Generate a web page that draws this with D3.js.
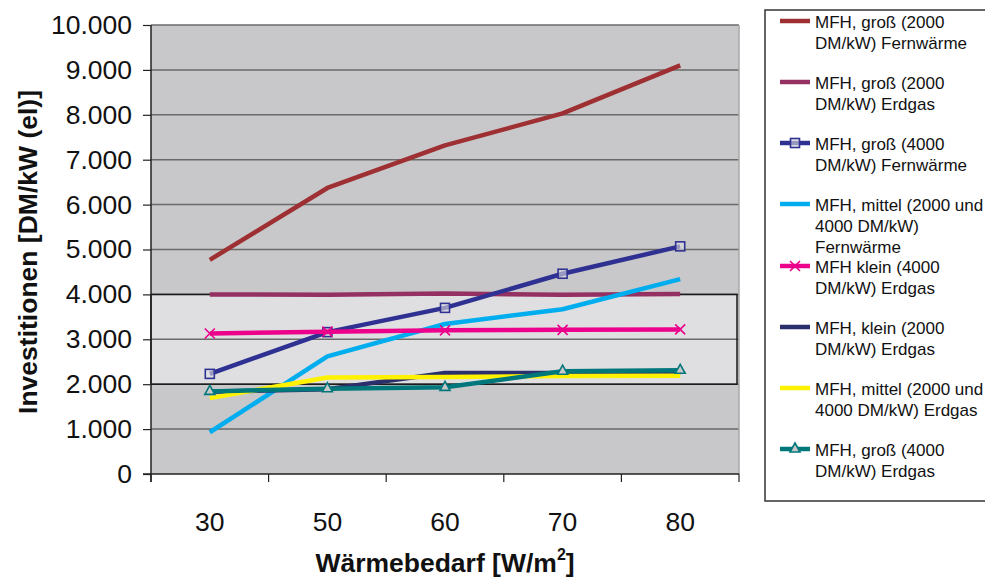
<!DOCTYPE html>
<html>
<head>
<meta charset="utf-8">
<script src="https://cdn.jsdelivr.net/npm/d3@7/dist/d3.min.js"></script>
<style>
  html, body { margin: 0; padding: 0; background: #ffffff; }
  svg { display: block; font-family: "Liberation Sans", Arial, sans-serif; }
</style>
</head>
<body>
<svg id="chart" width="985" height="577"></svg>
<script>
// ---- data ----
const categories = ["30", "50", "60", "70", "80"];
const yTickValues = [0, 1000, 2000, 3000, 4000, 5000, 6000, 7000, 8000, 9000, 10000];
const yTickLabels = ["0", "1.000", "2.000", "3.000", "4.000", "5.000", "6.000", "7.000", "8.000", "9.000", "10.000"];

const seriesNames = [
  ["MFH, groß (2000", "DM/kW) Fernwärme"],
  ["MFH, groß (2000", "DM/kW) Erdgas"],
  ["MFH, groß (4000", "DM/kW) Fernwärme"],
  ["MFH, mittel (2000 und", "4000 DM/kW)", "Fernwärme"],
  ["MFH klein (4000", "DM/kW) Erdgas"],
  ["MFH, klein (2000", "DM/kW) Erdgas"],
  ["MFH, mittel (2000 und", "4000 DM/kW) Erdgas"],
  ["MFH, groß (4000", "DM/kW) Erdgas"]
];
const grossFW2000   = [4770, 6370, 7320, 8030, 9100];
const grossEG2000   = [4000, 3990, 4020, 3990, 4010];
const grossFW4000   = [2230, 3160, 3700, 4460, 5070];
const mittelFW      = [930, 2620, 3340, 3670, 4340];
const kleinEG4000   = [3130, 3170, 3200, 3210, 3220];
const kleinEG2000   = [1830, 1890, 2250, 2250, 2250];
const mittelEG      = [1690, 2150, 2160, 2180, 2190];
const grossEG4000   = [1840, 1900, 1930, 2290, 2310];
const seriesValues = [grossFW2000, grossEG2000, grossFW4000, mittelFW, kleinEG4000, kleinEG2000, mittelEG, grossEG4000];
const seriesColors = ["#9e3033", "#943062", "#2e3192", "#00aeef", "#ec008c", "#2b2f6b", "#fff200", "#00777b"];
const seriesMarkers = [null, null, "square", null, "cross", null, null, "triangle"];

// ---- layout ----
const svg = d3.select("#chart");
const plot = { left: 151, right: 739, top: 25, bottom: 474 };

const x = d3.scaleBand().domain(categories).range([plot.left, plot.right]).padding(0);
const y = d3.scaleLinear().domain([0, 10000]).range([plot.bottom, plot.top]);

// plot background
svg.append("rect")
  .attr("x", plot.left).attr("y", plot.top)
  .attr("width", plot.right - plot.left).attr("height", plot.bottom - plot.top)
  .attr("fill", "#c8c8ca");

// highlighted band 2000-4000
svg.append("rect")
  .attr("x", plot.left).attr("y", y(4000))
  .attr("width", plot.right - plot.left - 2).attr("height", y(2000) - y(4000))
  .attr("fill", "#dfdfe1");

// gridlines
svg.append("g").selectAll("line")
  .data(yTickValues.filter(v => v > 0))
  .join("line")
  .attr("x1", plot.left).attr("x2", plot.right)
  .attr("y1", d => y(d)).attr("y2", d => y(d))
  .attr("stroke", "#6a6a6a").attr("stroke-width", 1.5);

// band border
svg.append("rect")
  .attr("x", plot.left).attr("y", y(4000))
  .attr("width", plot.right - plot.left - 2).attr("height", y(2000) - y(4000))
  .attr("fill", "none").attr("stroke", "#1a1a1a").attr("stroke-width", 1.5);

// right edge of plot
svg.append("line")
  .attr("x1", plot.right).attr("x2", plot.right)
  .attr("y1", plot.top).attr("y2", plot.bottom)
  .attr("stroke", "#a9a9ab").attr("stroke-width", 1.5);

// y axis
const yAxis = d3.axisLeft(y)
  .tickValues(yTickValues)
  .tickFormat((d, i) => yTickLabels[i])
  .tickSize(8).tickPadding(11);
const gy = svg.append("g").attr("transform", `translate(${plot.left},0)`).call(yAxis);
gy.select(".domain").attr("stroke", "#222").attr("stroke-width", 1.5).attr("d", `M0,${plot.top}V${plot.bottom + 8}`);
gy.selectAll(".tick line").attr("stroke", "#222").attr("stroke-width", 1.2);
gy.selectAll(".tick text").attr("font-size", 26.5).attr("fill", "#111")
  .style("font-family", "'Liberation Sans', Arial, sans-serif");

// x axis (ticks at band boundaries)
const gx = svg.append("g").attr("transform", `translate(0,${plot.bottom})`);
gx.append("line").attr("x1", plot.left - 8).attr("x2", plot.right)
  .attr("y1", 0).attr("y2", 0).attr("stroke", "#222").attr("stroke-width", 1.5);
const boundaries = categories.map(c => x(c)).concat([x(categories[categories.length - 1]) + x.bandwidth()]);
gx.selectAll("line.tk").data(boundaries).join("line").attr("class", "tk")
  .attr("x1", d => d).attr("x2", d => d).attr("y1", 0).attr("y2", 8)
  .attr("stroke", "#222").attr("stroke-width", 1.2);
gx.selectAll("text").data(categories).join("text")
  .attr("x", d => x(d) + x.bandwidth() / 2).attr("y", 57)
  .attr("text-anchor", "middle").attr("font-size", 26.5).attr("fill", "#111")
  .text(d => d);

// axis titles
svg.append("text")
  .attr("transform", "translate(37,252) rotate(-90)")
  .attr("text-anchor", "middle").attr("font-size", 26.5).attr("font-weight", "bold").attr("fill", "#111")
  .text("Investitionen [DM/kW (el)]");
const xt = svg.append("text")
  .attr("x", 445).attr("y", 572)
  .attr("text-anchor", "middle").attr("font-size", 26.5).attr("font-weight", "bold").attr("fill", "#111");
xt.append("tspan").text("Wärmebedarf [W/m");
xt.append("tspan").attr("font-size", 16).attr("dy", -12).text("2");
xt.append("tspan").attr("dy", 12).text("]");

// markers
function drawMarker(g, type, cx, cy, color) {
  if (type === "square") {
    g.append("rect").attr("x", cx - 4.5).attr("y", cy - 4.5).attr("width", 9).attr("height", 9)
      .attr("fill", "#dfdfe1").attr("fill-opacity", 0.6).attr("stroke", color).attr("stroke-width", 1.6);
  } else if (type === "cross") {
    g.append("path").attr("d", `M${cx - 5},${cy - 5}L${cx + 5},${cy + 5}M${cx - 5},${cy + 5}L${cx + 5},${cy - 5}`)
      .attr("stroke", color).attr("stroke-width", 1.6).attr("fill", "none");
  } else if (type === "triangle") {
    g.append("path").attr("d", `M${cx},${cy - 6}L${cx + 5},${cy + 3}L${cx - 5},${cy + 3}Z`)
      .attr("stroke", color).attr("stroke-width", 1.6).attr("fill", "#c8c8ca");
  }
}

// lines
const line = d3.line()
  .x((d, i) => x(categories[i]) + x.bandwidth() / 2)
  .y(d => y(d));
const linesG = svg.append("g");
seriesValues.forEach((vals, s) => {
  linesG.append("path").datum(vals)
    .attr("d", line)
    .attr("fill", "none")
    .attr("stroke", seriesColors[s])
    .attr("stroke-width", 4.5)
    .attr("stroke-linejoin", "round");
  if (seriesMarkers[s]) {
    vals.forEach((v, i) => drawMarker(linesG, seriesMarkers[s], x(categories[i]) + x.bandwidth() / 2, y(v), seriesColors[s]));
  }
});

// legend
const lg = svg.append("g");
lg.append("rect").attr("x", 765).attr("y", 10).attr("width", 240).attr("height", 491)
  .attr("fill", "#fff").attr("stroke", "#333").attr("stroke-width", 1.5);
const legendTops = [21, 82, 143, 204, 266, 327, 388, 449];
seriesNames.forEach((lines, s) => {
  const ly = legendTops[s];
  lg.append("line").attr("x1", 780).attr("x2", 810).attr("y1", ly).attr("y2", ly)
    .attr("stroke", seriesColors[s]).attr("stroke-width", 4.5);
  if (seriesMarkers[s]) drawMarker(lg, seriesMarkers[s], 795, ly, seriesColors[s]);
  const t = lg.append("text").attr("x", 815).attr("y", ly + 7).attr("font-size", 17).attr("fill", "#111");
  lines.forEach((ln, k) => {
    t.append("tspan").attr("x", 815).attr("dy", k === 0 ? 0 : 21).text(ln);
  });
});
</script>
</body>
</html>
